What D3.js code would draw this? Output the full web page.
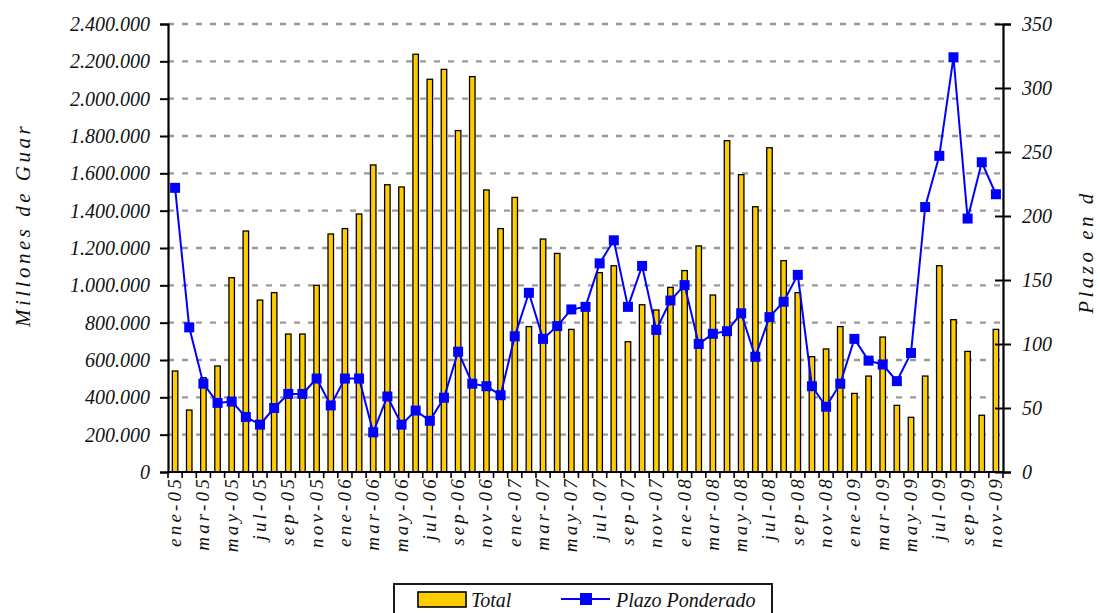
<!DOCTYPE html>
<html>
<head>
  <meta charset="utf-8">
  <title>Total y Plazo Ponderado</title>
  <script src="https://cdn.jsdelivr.net/npm/d3@7"></script>
  <style>
    body { margin: 0; background: #fff; }
    #chart text { font-family: "Liberation Serif", "Times New Roman", Times, serif; font-style: italic; }
  </style>
</head>
<body>
  <svg id="chart" width="1100" height="613" font-family="Liberation Serif"></svg>
  <script>
    // months ene-05 .. nov-09
    var months = ["ene","feb","mar","abr","may","jun","jul","ago","sep","oct","nov","dic"];
    var years = ["05","06","07","08","09"];
    var categories = [];
    years.forEach(function(y) {
      months.forEach(function(m) { categories.push(m + "-" + y); });
    });
    categories = categories.slice(0, 59);

    // Total (millones de guaranies)
    var totalValues = [
      541000, 332000, 505000, 568000, 1041000, 1291000, 921000, 961000, 739000, 739000, 1000000, 1275000,
      1304000, 1382000, 1645000, 1539000, 1527000, 2238000, 2104000, 2157000, 1829000, 2118000, 1511000, 1304000,
      1471000, 779000, 1248000, 1171000, 764000, 870000, 1068000, 1105000, 698000, 896000, 868000, 989000,
      1079000, 1211000, 948000, 1775000, 1593000, 1421000, 1737000, 1132000, 961000, 618000, 659000, 779000,
      421000, 514000, 723000, 357000, 293000, 514000, 1105000, 816000, 646000, 304000, 764000
    ];

    // Plazo ponderado (dias)
    var plazoValues = [
      222, 113, 69, 54, 55, 43, 37, 50, 61, 61, 73, 52,
      73, 73, 31, 59, 37, 48, 40, 58, 94, 69, 67, 60,
      106, 140, 104, 114, 127, 129, 163, 181, 129, 161, 111, 134,
      146, 100, 108, 110, 124, 90, 121, 133, 154, 67, 51, 69,
      104, 87, 84, 71, 93, 207, 247, 324, 198, 242, 217
    ];

    var leftTicks = d3.range(0, 2400001, 200000);
    var rightTicks = d3.range(0, 351, 50);

    var margin = {left: 168, right: 1003, top: 24, bottom: 472};

    var svg = d3.select("#chart");

    var x = d3.scaleBand()
      .domain(categories)
      .range([margin.left, margin.right])
      .padding(0);

    var yLeft = d3.scaleLinear().domain([0, 2400000]).range([margin.bottom, margin.top]);
    var yRight = d3.scaleLinear().domain([0, 350]).range([margin.bottom, margin.top]);

    var locale = d3.formatLocale({decimal: ",", thousands: ".", grouping: [3], currency: ["", ""]});
    var fmt = locale.format(",");

    function serif(sel, size) {
      sel.style("font-size", size + "px").attr("fill", "#111");
    }

    // gridlines
    svg.append("g")
      .selectAll("line")
      .data(leftTicks.filter(function(d) { return d > 0; }))
      .enter().append("line")
        .attr("x1", margin.left)
        .attr("x2", margin.right)
        .attr("y1", function(d) { return yLeft(d); })
        .attr("y2", function(d) { return yLeft(d); })
        .attr("stroke", "#999")
        .attr("stroke-width", 2.4)
        .attr("stroke-dasharray", "6,8");

    // bars
    var barW = 5.5;
    svg.append("g")
      .selectAll("rect")
      .data(totalValues)
      .enter().append("rect")
        .attr("x", function(d, i) { return x(categories[i]) + x.bandwidth() / 2 - barW / 2; })
        .attr("y", function(d) { return yLeft(d); })
        .attr("width", barW)
        .attr("height", function(d) { return margin.bottom - yLeft(d); })
        .attr("fill", "#FFCC00")
        .attr("stroke", "#000")
        .attr("stroke-width", 1.3);

    // line
    var line = d3.line()
      .x(function(d, i) { return x(categories[i]) + x.bandwidth() / 2; })
      .y(function(d) { return yRight(d); });

    svg.append("path")
      .datum(plazoValues)
      .attr("d", line)
      .attr("fill", "none")
      .attr("stroke", "#0000FF")
      .attr("stroke-width", 2);

    var mk = 10;
    svg.append("g")
      .selectAll("rect")
      .data(plazoValues)
      .enter().append("rect")
        .attr("x", function(d, i) { return x(categories[i]) + x.bandwidth() / 2 - mk / 2; })
        .attr("y", function(d) { return yRight(d) - mk / 2; })
        .attr("width", mk)
        .attr("height", mk)
        .attr("fill", "#0000FF");

    // left axis
    var gl = svg.append("g")
      .attr("transform", "translate(" + margin.left + ",0)")
      .call(d3.axisLeft(yLeft).tickValues(leftTicks).tickFormat(fmt).tickSize(8).tickPadding(10));
    gl.attr("font-family", null).attr("font-size", null);
    gl.select(".domain").attr("stroke-width", 2.2);
    gl.selectAll(".tick line").attr("stroke-width", 2);
    gl.selectAll("text").call(serif, 20);

    // right axis
    var gr = svg.append("g")
      .attr("transform", "translate(" + margin.right + ",0)")
      .call(d3.axisRight(yRight).tickValues(rightTicks).tickSize(8).tickPadding(11));
    gr.attr("font-family", null).attr("font-size", null);
    gr.select(".domain").attr("stroke-width", 2.2);
    gr.selectAll(".tick line").attr("x1", -8).attr("stroke-width", 2);
    gr.selectAll("text").call(serif, 20);

    // bottom axis
    var gb = svg.append("g")
      .attr("transform", "translate(0," + margin.bottom + ")");
    gb.append("line")
      .attr("x1", margin.left - 1).attr("x2", margin.right + 1)
      .attr("stroke", "#000").attr("stroke-width", 2.2);
    gb.selectAll("line.tk")
      .data(d3.range(categories.length + 1))
      .enter().append("line")
        .attr("class", "tk")
        .attr("x1", function(i) { return margin.left + i * x.bandwidth(); })
        .attr("x2", function(i) { return margin.left + i * x.bandwidth(); })
        .attr("y1", 0).attr("y2", 6)
        .attr("stroke", "#000").attr("stroke-width", 1.6);
    gb.selectAll("text")
      .data(categories.filter(function(d, i) { return i % 2 === 0; }))
      .enter().append("text")
        .attr("transform", function(d) {
          return "translate(" + (x(d) + x.bandwidth() / 2 + 6) + ",4) rotate(-90)";
        })
        .attr("text-anchor", "end")
        .call(serif, 19)
        .style("letter-spacing", "3.2px")
        .text(function(d) { return d; });

    // axis titles
    svg.append("text")
      .attr("transform", "translate(30,225) rotate(-90)")
      .attr("text-anchor", "middle")
      .call(serif, 21)
      .style("letter-spacing", "3.5px")
      .text("Millones de Guar");

    svg.append("text")
      .attr("transform", "translate(1093,252) rotate(-90)")
      .attr("text-anchor", "middle")
      .call(serif, 21)
      .style("letter-spacing", "3.5px")
      .text("Plazo en d");

    // legend
    var lg = svg.append("g");
    lg.append("rect")
      .attr("x", 394).attr("y", 584)
      .attr("width", 378).attr("height", 40)
      .attr("fill", "#fff").attr("stroke", "#000").attr("stroke-width", 1.8);
    lg.append("rect")
      .attr("x", 418).attr("y", 592)
      .attr("width", 48).attr("height", 15)
      .attr("fill", "#FFCC00").attr("stroke", "#000").attr("stroke-width", 1.6);
    lg.append("text")
      .attr("x", 471).attr("y", 607)
      .call(serif, 20)
      .text("Total");
    lg.append("line")
      .attr("x1", 561).attr("x2", 610)
      .attr("y1", 599).attr("y2", 599)
      .attr("stroke", "#0000FF").attr("stroke-width", 2);
    lg.append("rect")
      .attr("x", 580).attr("y", 593)
      .attr("width", 12).attr("height", 12)
      .attr("fill", "#0000FF");
    lg.append("text")
      .attr("x", 616).attr("y", 607)
      .call(serif, 20)
      .text("Plazo Ponderado");
  </script>
</body>
</html>
